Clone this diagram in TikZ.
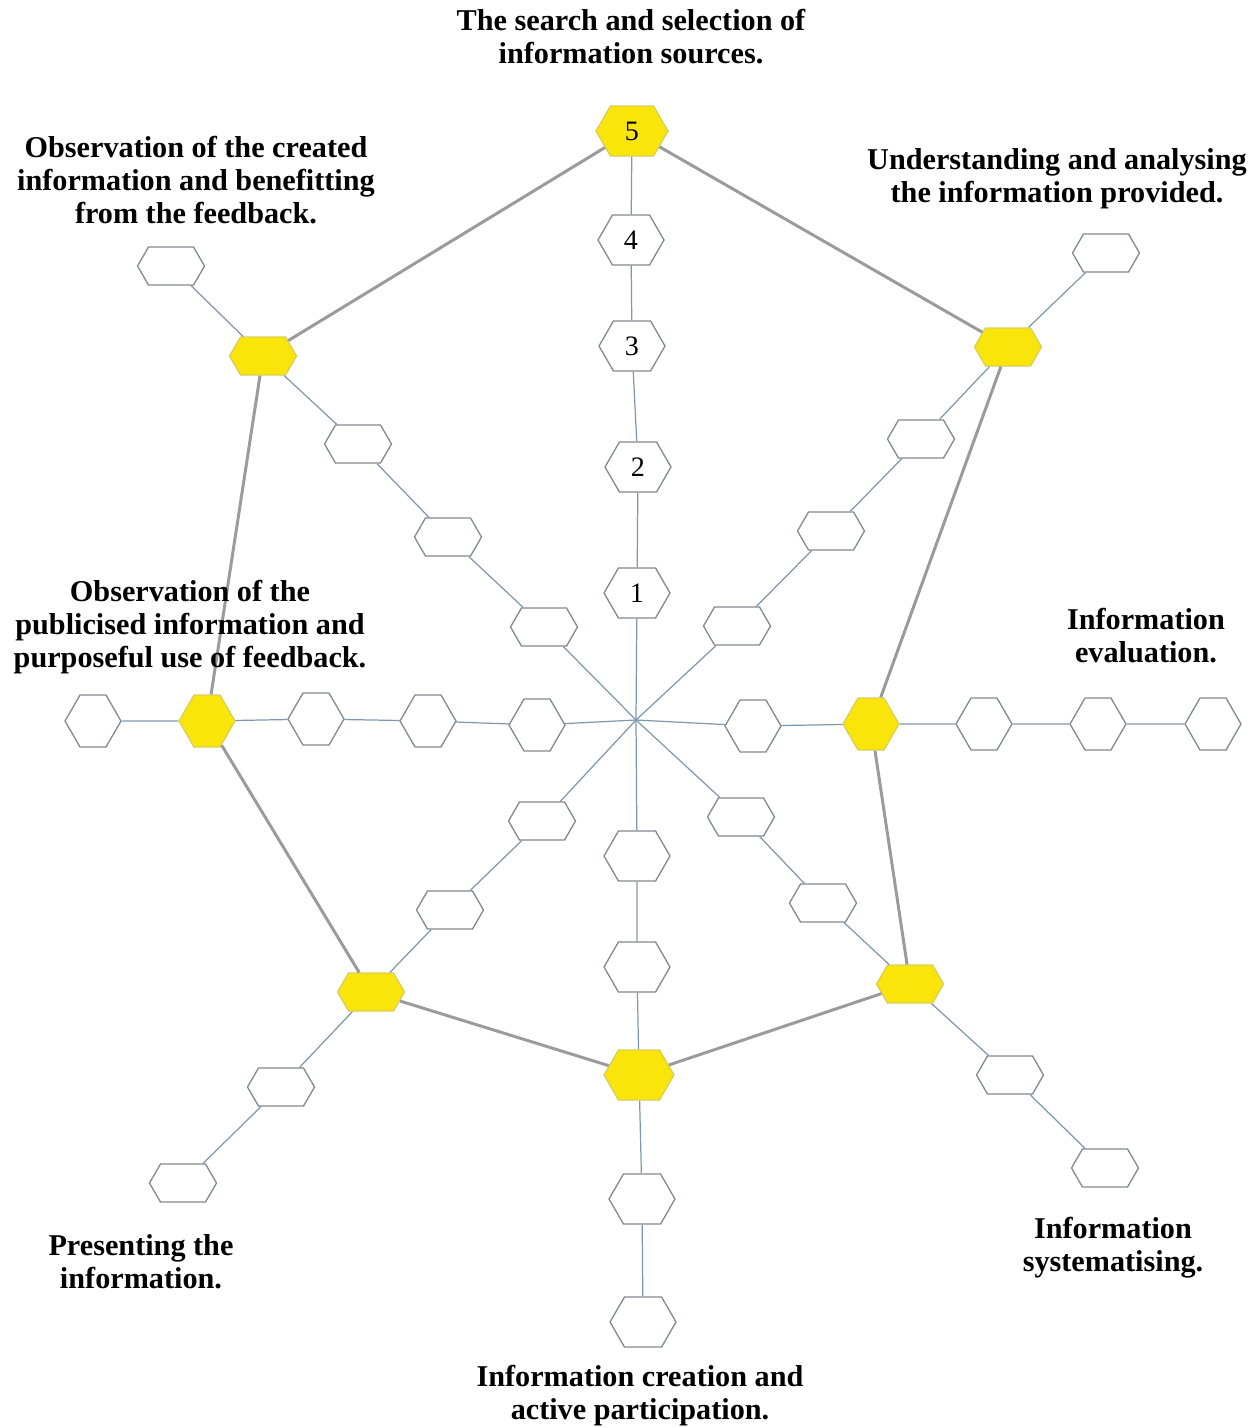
\documentclass[tikz,border=0pt]{standalone}
\usepackage{fontspec}
\setmainfont{Liberation Serif}
\usetikzlibrary{shapes.symbols}
\definecolor{hexline}{HTML}{848A90}
\definecolor{spoke}{HTML}{7F98AC}
\definecolor{yel}{HTML}{F9E50A}
\definecolor{yelline}{HTML}{D9CF5A}
\definecolor{link}{HTML}{9B9B9B}
\tikzset{
 hexbox/.style={signal, signal to=west and east, signal pointer angle=120, draw=hexline, fill=white, line width=0.75pt, inner sep=0pt, font=\fontsize{16}{18}\selectfont},
 vhex/.style={hexbox, minimum width=13.2mm, minimum height=10mm},
 hhex/.style={hexbox, minimum width=11.2mm, minimum height=10.4mm},
 dhex/.style={hexbox, minimum width=13.4mm, minimum height=7.6mm},
 yelhex/.style={fill=yel, draw=yelline},
 spokeline/.style={draw=spoke, line width=0.7pt},
 linkline/.style={draw=link, line width=1.7pt},
 lbl/.style={align=center, font=\bfseries\fontsize{17.2}{18.8}\selectfont, inner sep=0pt}
}
\begin{document}
\begin{tikzpicture}[x=0.02cm,y=-0.02cm]
\useasboundingbox (0,0) rectangle (1255,1428);
\coordinate (c) at (636,720);
% up spoke
\node[vhex] (u1) at (637,593) {1};
\node[vhex] (u2) at (638,467) {2};
\node[vhex] (u3) at (632,346) {3};
\node[vhex] (u4) at (631,240) {4};
\node[vhex, yelhex, minimum width=14.4mm] (u5) at (632,131) {5};
% NE
\node[dhex] (ne1) at (737,626) {};
\node[dhex] (ne2) at (831,531) {};
\node[dhex] (ne3) at (921,439) {};
\node[dhex, yelhex] (ne4) at (1008,347) {};
\node[dhex] (ne5) at (1106,253) {};
% E
\node[hhex] (e1) at (753,726) {};
\node[hhex, yelhex] (e2) at (871,724) {};
\node[hhex] (e3) at (984,724) {};
\node[hhex] (e4) at (1098,724) {};
\node[hhex] (e5) at (1213,724) {};
% SE
\node[dhex] (se1) at (741,817) {};
\node[dhex] (se2) at (823,903) {};
\node[dhex, yelhex] (se3) at (910,984) {};
\node[dhex] (se4) at (1010,1075) {};
\node[dhex] (se5) at (1105,1168) {};
% S
\node[vhex] (s1) at (637,856) {};
\node[vhex] (s2) at (637,967) {};
\node[vhex, yelhex, minimum width=14mm] (s3) at (639,1075) {};
\node[vhex] (s4) at (642,1199) {};
\node[vhex] (s5) at (643,1322) {};
% SW
\node[dhex] (sw1) at (542,821) {};
\node[dhex] (sw2) at (450,910) {};
\node[dhex, yelhex] (sw3) at (371,992) {};
\node[dhex] (sw4) at (281,1087) {};
\node[dhex] (sw5) at (183,1183) {};
% W
\node[hhex] (w1) at (537,725) {};
\node[hhex] (w2) at (428,721) {};
\node[hhex] (w3) at (316,719) {};
\node[hhex, yelhex] (w4) at (207,721) {};
\node[hhex] (w5) at (93,721) {};
% NW
\node[dhex] (nw1) at (544,627) {};
\node[dhex] (nw2) at (448,537) {};
\node[dhex] (nw3) at (358,444) {};
\node[dhex, yelhex] (nw4) at (263,356) {};
\node[dhex] (nw5) at (171,266) {};
% spokes
\draw[spokeline] (c) -- (u1) (u1) -- (u2) (u2) -- (u3) (u3) -- (u4) (u4) -- (u5);
\foreach \d in {ne,e,se,s,sw,w,nw}{
  \draw[spokeline] (c) -- (\d1) (\d1) -- (\d2) (\d2) -- (\d3) (\d3) -- (\d4) (\d4) -- (\d5);
}
% links
\draw[linkline] (u5) -- (ne4) (ne4) -- (e2) (e2) -- (se3) (se3) -- (s3)
  (s3) -- (sw3) (sw3) -- (w4) (w4) -- (nw4) (nw4) -- (u5);
% labels
\node[lbl] (l1) at (631,37) {The search and selection of\\information sources.};
\node[lbl] (l2) at (1057,179) {Understanding and analysing\\the information provided.};
\node[lbl] (l3) at (1146,636) {Information\\evaluation.};
\node[lbl] (l4) at (1113,1248) {Information\\systematising.};
\node[lbl] (l5) at (640,1396) {Information creation and\\active participation.};
\node[lbl] (l6) at (141,1262) {Presenting the\\information.};
\node[lbl] (l7) at (190,627) {Observation of the\\publicised information and\\purposeful use of feedback.};
\node[lbl] (l8) at (196,180) {Observation of the created\\information and benefitting\\from the feedback.};
\end{tikzpicture}
\end{document}
